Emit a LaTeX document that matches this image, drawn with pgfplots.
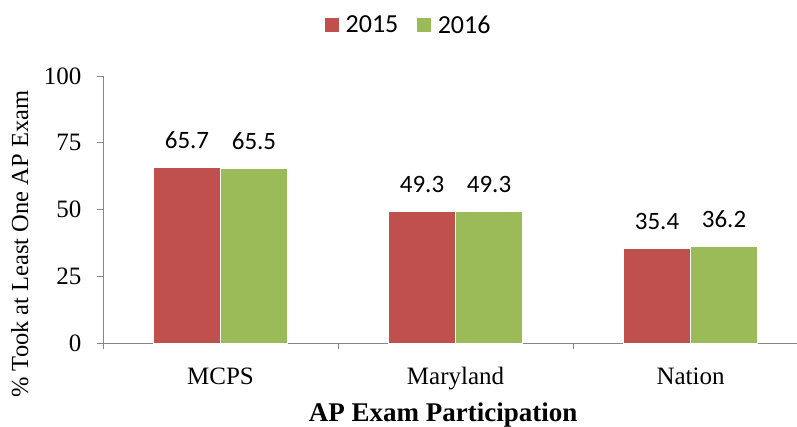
\documentclass[border=0pt]{standalone}
\usepackage{fontspec}
\setmainfont{Liberation Serif}
\newfontfamily\calfont{Carlito}
\usepackage{pgfplots}
\pgfplotsset{compat=1.18}
\definecolor{cred}{HTML}{C0504D}
\definecolor{cgreen}{HTML}{9BBB59}
\definecolor{axgray}{HTML}{868686}
\begin{document}
\begin{tikzpicture}
\begin{axis}[
  at={(0pt,0pt)}, anchor=south west,
  scale only axis,
  width=694pt, height=267pt,
  xmin=-0.5, xmax=2.453,
  ymin=0, ymax=100,
  ytick={0,25,50,75,100},
  xtick={0,1,2},
  xticklabels={MCPS,Maryland,Nation},
  major x tick style={draw=none},
  minor xtick={-0.5,0.5,1.5},
  minor tick length=6pt,
  x tick style={axgray},
  y tick style={axgray, line width=0.8pt},
  major tick length=6pt,
  xtick pos=bottom, ytick pos=left,
  tick align=outside,
  axis lines*=left,
  axis line style={axgray, line width=0.8pt, -},
  separate axis lines,
  /pgf/number format/assume math mode=true,
  tick label style={font=\fontsize{25}{30}\selectfont},
  yticklabel style={xshift=-12pt},
  xticklabel style={anchor=base, yshift=-35pt},
  xlabel={\textbf{AP Exam Participation}},
  xlabel style={font=\fontsize{27}{32}\selectfont, at={(axis description cs:0.49,0)}, anchor=base, yshift=-78pt},
  ylabel={\% Took at Least One AP Exam},
  ylabel style={font=\fontsize{24.5}{29}\selectfont, at={(axis description cs:-0.108,0.37)}, anchor=base},
  ybar=0pt, bar width=67pt,
  nodes near coords,
  every node near coord/.append style={font=\calfont\fontsize{25}{30}\selectfont, anchor=base, yshift=19pt, /pgf/number format/.cd, fixed, fixed zerofill, precision=1, assume math mode=true},
  legend style={at={(axis description cs:0.44,1)}, anchor=center, yshift=51pt, draw=none, font=\calfont\fontsize{26}{31}\selectfont, /tikz/every even column/.append style={column sep=16pt}},
  legend columns=2,
  legend image code/.code={\fill[#1] (0pt,-7.5pt) rectangle (15pt,7.5pt);},
]
\addplot[fill=cred, draw=white, line width=0.4pt] coordinates {(0,65.7) (1,49.3) (2,35.4)};
\addplot[fill=cgreen, draw=white, line width=0.4pt] coordinates {(0,65.5) (1,49.3) (2,36.2)};
\legend{\hspace{4pt}2015,\hspace{4pt}2016}
\end{axis}
\pgfresetboundingbox
\path[use as bounding box] (-103pt,-83pt) rectangle (694pt,343pt);
\end{tikzpicture}
\end{document}
